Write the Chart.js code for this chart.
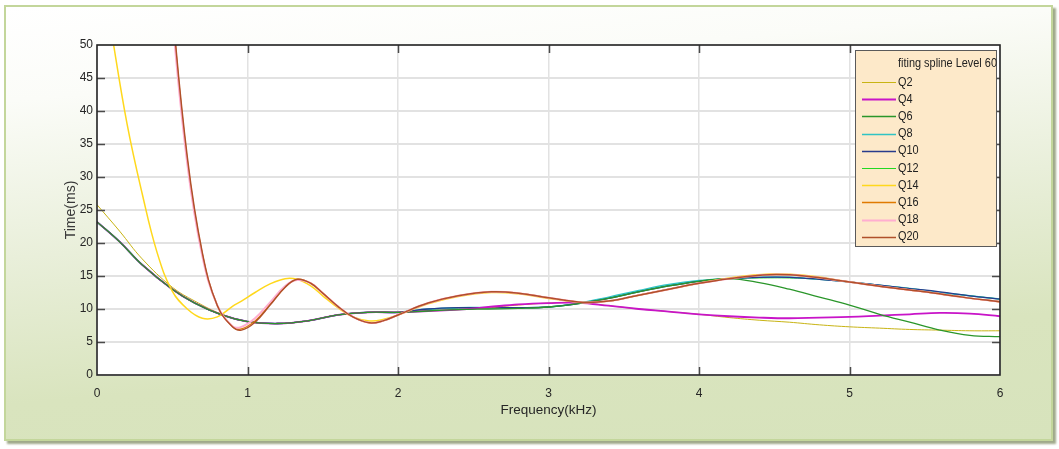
<!DOCTYPE html>
<html>
<head>
<meta charset="utf-8">
<script src="https://cdn.jsdelivr.net/npm/chart.js@4"></script>
<style>
  html, body { margin: 0; padding: 0; background: #ffffff; }
  #wrap { position: relative; width: 1059px; height: 449px; }
  #frame {
    position: absolute; left: 4px; top: 5px; width: 1045px; height: 432px;
    border: 2px solid #c3d69b;
    background: linear-gradient(175deg, #ffffff 0%, #fbfcf8 18%, #e9efda 48%, #d9e4be 76%, #d7e3bc 100%);
    box-shadow: 3px 3px 2px #9fa98a;
  }
  #c { position: absolute; left: 0; top: 0; }
</style>
</head>
<body>
<div id="wrap">
  <div id="frame"></div>
  <canvas id="c" width="1059" height="449"></canvas>
</div>
<script>
// frequency grids (kHz)
const freqSmooth = [0, 0.15, 0.3, 0.5, 0.65, 0.83, 1.0, 1.2, 1.4, 1.6, 1.8, 2.0, 2.2, 2.4, 2.6, 2.8, 3.0, 3.2, 3.4, 3.6, 3.8, 4.0, 4.2, 4.4, 4.6, 4.8, 5.0, 5.2, 5.4, 5.6, 5.8, 6.0];
const freqWavy = [0, 0.1, 0.2, 0.3, 0.4, 0.5, 0.6, 0.7, 0.8, 0.9, 0.96, 1.05, 1.15, 1.25, 1.33, 1.42, 1.5, 1.6, 1.7, 1.81, 1.9, 2.0, 2.2, 2.4, 2.62, 2.8, 3.0, 3.23, 3.4, 3.6, 3.8, 4.0, 4.2, 4.47, 4.7, 5.0, 5.25, 5.5, 5.75, 6.0];

// time (ms) on freqSmooth
const q2 = [25.8, 21.8, 17.6, 13.3, 11.2, 9.2, 8.1, 7.8, 8.2, 9.1, 9.5, 9.5, 9.7, 9.9, 10.2, 10.6, 10.9, 10.95, 10.5, 10.0, 9.6, 9.2, 8.7, 8.3, 8.0, 7.6, 7.3, 7.1, 6.9, 6.8, 6.7, 6.7];
const q4 = [23.2, 20.2, 16.7, 13.0, 10.9, 9.1, 8.1, 7.8, 8.2, 9.1, 9.5, 9.5, 9.7, 9.9, 10.3, 10.7, 10.9, 10.95, 10.5, 10.0, 9.6, 9.2, 8.9, 8.7, 8.6, 8.7, 8.8, 9.0, 9.2, 9.4, 9.3, 8.9];
const q6 = [23.2, 20.2, 16.7, 13.0, 10.9, 9.1, 8.1, 7.8, 8.2, 9.1, 9.5, 9.5, 9.7, 9.9, 10.0, 10.1, 10.3, 10.8, 11.6, 12.6, 13.5, 14.2, 14.6, 14.0, 13.0, 11.8, 10.6, 9.2, 8.0, 6.8, 6.0, 5.8];
const q8 = [23.2, 20.2, 16.7, 13.0, 10.9, 9.1, 8.1, 7.8, 8.2, 9.1, 9.5, 9.5, 10.0, 10.2, 10.2, 10.2, 10.3, 10.9, 11.8, 12.8, 13.7, 14.3, 14.6, 14.8, 14.8, 14.5, 14.1, 13.6, 13.1, 12.5, 12.0, 11.5];
const q10 = [23.2, 20.2, 16.7, 13.0, 10.9, 9.1, 8.1, 7.8, 8.2, 9.1, 9.5, 9.5, 10.0, 10.2, 10.2, 10.2, 10.3, 10.8, 11.6, 12.6, 13.5, 14.2, 14.6, 14.8, 14.8, 14.5, 14.1, 13.6, 13.1, 12.6, 12.0, 11.5];
const q12 = [23.2, 20.2, 16.7, 13.0, 10.9, 9.1, 8.1, 7.8, 8.2, 9.1, 9.5, 9.5, 9.9, 10.1, 10.2, 10.2, 10.3, 10.9, 11.7, 12.7, 13.6, 14.2, 14.6, 14.7, 14.7, 14.5, 14.1, 13.6, 13.1, 12.5, 12.0, 11.5];

// time (ms) on freqWavy
const q14 = [66, 51.5, 38, 27.5, 18.5, 12.7, 10.0, 8.6, 8.8, 10.4, 11.2, 12.5, 13.8, 14.6, 14.5, 13.5, 12.0, 10.2, 8.8, 8.2, 8.4, 9.1, 10.8, 11.9, 12.5, 12.3, 11.6, 11.0, 11.2, 12.1, 13.0, 13.9, 14.7, 15.3, 15.1, 14.1, 13.3, 12.6, 11.8, 11.1];
const q16 = [null, null, null, null, 87, 55.5, 32.5, 18.3, 10.5, 7.3, 7.0, 8.2, 10.7, 13.3, 14.5, 13.9, 12.4, 10.4, 8.8, 7.9, 8.2, 9.1, 10.9, 12.0, 12.6, 12.4, 11.7, 11.0, 11.2, 12.1, 13.0, 13.9, 14.6, 15.2, 15.0, 14.1, 13.3, 12.6, 11.8, 11.1];
const q18 = [null, null, null, null, 86, 54.5, 32, 18, 10.5, 7.4, 7.3, 8.6, 11.0, 13.5, 14.4, 13.9, 12.4, 10.4, 8.8, 7.9, 8.2, 9.1, 10.9, 12.0, 12.6, 12.4, 11.7, 11.0, 11.2, 12.1, 13.0, 13.9, 14.6, 15.2, 15.0, 14.1, 13.3, 12.6, 11.8, 11.1];
const q20 = [null, null, null, null, 88, 56, 33, 18.5, 10.5, 7.3, 6.8, 8.0, 10.6, 13.3, 14.5, 13.9, 12.4, 10.4, 8.8, 7.9, 8.2, 9.1, 10.9, 12.0, 12.6, 12.4, 11.7, 11.0, 11.2, 12.1, 13.0, 13.9, 14.6, 15.2, 15.0, 14.1, 13.3, 12.6, 11.8, 11.1];

const seriesNames = ['Q2', 'Q4', 'Q6', 'Q8', 'Q10', 'Q12', 'Q14', 'Q16', 'Q18', 'Q20'];
const seriesValues = [q2, q4, q6, q8, q10, q12, q14, q16, q18, q20];
const seriesFreq = [freqSmooth, freqSmooth, freqSmooth, freqSmooth, freqSmooth, freqSmooth, freqWavy, freqWavy, freqWavy, freqWavy];
const seriesColors = ['#c8b414', '#c814c8', '#2a962a', '#30c4c4', '#283c8c', '#22d822', '#ffd81c', '#e07a00', '#ffaed0', '#b0502a'];
const seriesWidths = [1, 1.8, 1.3, 1.5, 1.3, 1, 1.5, 1.3, 2, 1.5];
const drawOrder = [7, 6, 5, 9, 8, 10, 4, 3, 2, 1];
const legendTitle = 'fiting spline Level 60';

const sans = "'Liberation Sans', Arial, sans-serif";
const textColor = '#262626';

const datasets = seriesNames.map((name, i) => ({
  label: name,
  data: seriesFreq[i].map((f, j) => ({ x: f, y: seriesValues[i][j] })),
  borderColor: seriesColors[i],
  borderWidth: seriesWidths[i],
  pointRadius: 0,
  tension: 0.4,
  fill: false,
  order: drawOrder[i]
}));

// squeezed text like the narrow font in the original
function narrowText(ctx, text, x, y) {
  ctx.save();
  ctx.translate(x, y);
  ctx.scale(0.84, 1);
  ctx.fillText(text, 0, 0);
  ctx.restore();
}

// white plot area + MATLAB style box, inward ticks and legend
const boxPlugin = {
  id: 'box',
  beforeDraw(chart) {
    const a = chart.chartArea, ctx = chart.ctx;
    ctx.save();
    ctx.fillStyle = '#ffffff';
    ctx.fillRect(a.left, a.top, a.right - a.left, a.bottom - a.top);
    ctx.restore();
  },
  afterDraw(chart) {
    const a = chart.chartArea, ctx = chart.ctx;
    const xs = chart.scales.x, ys = chart.scales.y;
    ctx.save();
    ctx.strokeStyle = '#4a4a4a';
    ctx.lineWidth = 1.5;
    ctx.beginPath();
    xs.ticks.forEach(t => {
      if (t.value <= 0 || t.value >= 6) return;
      const px = Math.round(xs.getPixelForValue(t.value)) + 0.5;
      ctx.moveTo(px, a.bottom); ctx.lineTo(px, a.bottom - 8);
      ctx.moveTo(px, a.top); ctx.lineTo(px, a.top + 8);
    });
    ys.ticks.forEach(t => {
      if (t.value <= 0 || t.value >= 50) return;
      const py = Math.round(ys.getPixelForValue(t.value)) + 0.5;
      ctx.moveTo(a.left, py); ctx.lineTo(a.left + 8, py);
      ctx.moveTo(a.right, py); ctx.lineTo(a.right - 8, py);
    });
    ctx.stroke();
    ctx.strokeStyle = '#262626';
    ctx.lineWidth = 1.6;
    ctx.strokeRect(a.left, a.top, a.right - a.left, a.bottom - a.top);

    // legend
    const lx = 855, ly = 50, lw = 141, lh = 196;
    ctx.fillStyle = '#fde9c9';
    ctx.fillRect(lx, ly, lw, lh);
    ctx.strokeStyle = '#5a5a5a';
    ctx.lineWidth = 1;
    ctx.strokeRect(lx + 0.5, ly + 0.5, lw, lh);
    ctx.font = '13px ' + sans;
    ctx.fillStyle = '#222222';
    ctx.textBaseline = 'middle';
    ctx.textAlign = 'left';
    narrowText(ctx, legendTitle, 898, 63);
    seriesNames.forEach((name, i) => {
      const y = 82 + i * 17.2;
      ctx.strokeStyle = seriesColors[i];
      ctx.lineWidth = Math.max(1.2, seriesWidths[i]);
      ctx.beginPath();
      ctx.moveTo(862, Math.round(y) + 0.5);
      ctx.lineTo(896, Math.round(y) + 0.5);
      ctx.stroke();
      ctx.fillStyle = '#222222';
      narrowText(ctx, name, 898, y);
    });
    ctx.restore();
  }
};

new Chart(document.getElementById('c'), {
  type: 'line',
  data: { datasets },
  plugins: [boxPlugin],
  options: {
    responsive: false,
    animation: false,
    layout: { padding: { top: 45, right: 59, left: 0, bottom: 0 } },
    plugins: { legend: { display: false }, tooltip: { enabled: false } },
    scales: {
      x: {
        type: 'linear', min: 0, max: 6,
        ticks: { stepSize: 1, padding: 11, color: textColor, font: { family: sans, size: 12 } },
        grid: { color: '#e2e2e2', lineWidth: 1.5, drawTicks: false },
        border: { display: false },
        title: { display: true, text: 'Frequency(kHz)', color: textColor, font: { family: sans, size: 13.5 }, padding: { top: 0, bottom: 31 } },
        afterFit(s) { s.height = 74; }
      },
      y: {
        min: 0, max: 50,
        ticks: { stepSize: 5, padding: 4, color: textColor, font: { family: sans, size: 12 } },
        grid: { color: '#e2e2e2', lineWidth: 2, drawTicks: false },
        border: { display: false },
        title: { display: true, text: 'Time(ms)', color: '#3a3a3a', font: { family: sans, size: 14 }, padding: { top: 63, bottom: 0 } },
        afterFit(s) { s.width = 97; }
      }
    }
  }
});
</script>
</body>
</html>
